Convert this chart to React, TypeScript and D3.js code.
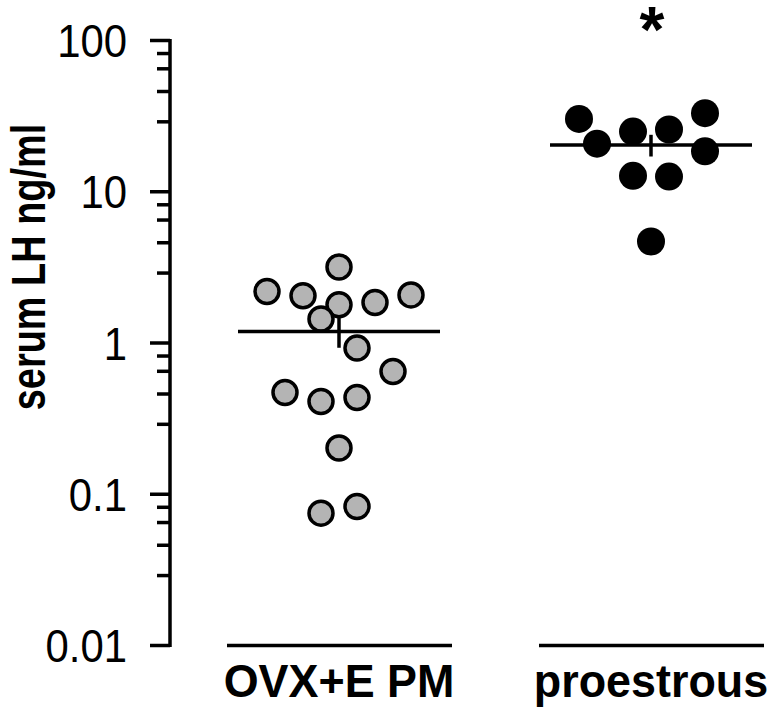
import React from "react";
import * as d3 from "d3";

const WIDTH = 773;
const HEIGHT = 709;

const GROUPS = ["OVX+E PM", "proestrous"];
const Y_TICK_VALUES = [0.01, 0.1, 1, 10, 100];
const Y_TICK_LABELS = ["0.01", "0.1", "1", "10", "100"];
const MINOR_FACTORS = [8.2, 6.5, 4.6, 2.9];
const Y_TITLE = "serum LH ng/ml";

const OVX_VALUES = [2.19, 2.05, 3.18, 1.79, 1.85, 2.08, 1.44, 0.925, 0.648, 0.471, 0.41, 0.436, 0.202, 0.075, 0.083];
const OVX_SLOTS = [-4, -2, 0, 0, 2, 4, -1, 1, 3, -3, -1, 1, 0, -1, 1];
const PRO_VALUES = [30.3, 20.8, 25.0, 25.8, 33.1, 18.5, 12.75, 12.6, 4.69];
const PRO_SLOTS = [-4, -3, -1, 1, 3, 3, -1, 1, 0];

const MEANS = [1.19, 20.4];
const SEM_HIGH = [1.47, 23.8];
const SEM_LOW = [0.93, 17.1];
const SIGNIFICANCE = ["", "*"];

export default function App() {
  const y = d3.scaleLog().domain([0.01, 100]).range([645.5, 40.5]);
  const x = d3.scalePoint<string>().domain(GROUPS).range([339, 651]);
  const slot = d3.scaleLinear().domain([-4, 4]).range([-72, 72]);
  const axisX = 170;

  const minorTicks: number[] = [];
  Y_TICK_VALUES.slice(0, -1).forEach((v) => {
    MINOR_FACTORS.forEach((f) => minorTicks.push(v * f));
  });

  const font = "Liberation Sans, Arial, Helvetica, sans-serif";
  const groupsData = [
    { values: OVX_VALUES, slots: OVX_SLOTS, fill: "#b4b4b4", stroke: "#000", r: 12, sw: 3.5 },
    { values: PRO_VALUES, slots: PRO_SLOTS, fill: "#000", stroke: "none", r: 14, sw: 0 },
  ];

  return (
    <svg
      width={WIDTH}
      height={HEIGHT}
      style={{ position: "absolute", left: 0, top: 0, background: "#fff" }}
      fontFamily={font}
    >
      <rect x={0} y={0} width={WIDTH} height={HEIGHT} fill="#fff" />
      {/* y axis */}
      <line x1={axisX} x2={axisX} y1={y(100) - 1.5} y2={y(0.01) + 1.5} stroke="#000" strokeWidth={3.5} />
      {Y_TICK_VALUES.map((v, i) => (
        <g key={"t" + i}>
          <line x1={axisX - 20} x2={axisX} y1={y(v)} y2={y(v)} stroke="#000" strokeWidth={3.5} />
          <text
            transform={`translate(127, ${y(v)}) scale(0.91, 1)`}
            dy="0.36em"
            textAnchor="end"
            fontSize={46}
            fill="#000"
          >
            {Y_TICK_LABELS[i]}
          </text>
        </g>
      ))}
      {minorTicks.map((v, i) => (
        <line key={"m" + i} x1={axisX - 13} x2={axisX} y1={y(v)} y2={y(v)} stroke="#000" strokeWidth={3.5} />
      ))}
      <text
        transform={`translate(45, 267) rotate(-90) scale(0.79, 1)`}
        textAnchor="middle"
        fontSize={48}
        fontWeight="bold"
        fill="#000"
      >
        {Y_TITLE}
      </text>

      {/* points */}
      {groupsData.map((g, gi) => (
        <g key={"g" + gi}>
          {g.values.map((v, i) => (
            <circle
              key={i}
              cx={(x(GROUPS[gi]) as number) + slot(g.slots[i])}
              cy={y(v)}
              r={g.r}
              fill={g.fill}
              stroke={g.stroke}
              strokeWidth={g.sw}
            />
          ))}
        </g>
      ))}

      {/* means and SEM */}
      {GROUPS.map((grp, i) => {
        const cx = x(grp) as number;
        return (
          <g key={"mean" + i}>
            <line x1={cx - 101} x2={cx + 101} y1={y(MEANS[i])} y2={y(MEANS[i])} stroke="#000" strokeWidth={3.5} />
            <line x1={cx} x2={cx} y1={y(SEM_HIGH[i])} y2={y(SEM_LOW[i])} stroke="#000" strokeWidth={3.5} />
          </g>
        );
      })}

      {/* category labels */}
      {GROUPS.map((grp, i) => {
        const cx = x(grp) as number;
        return (
          <g key={"cat" + i}>
            <line x1={cx - 112} x2={cx + 113} y1={645.5} y2={645.5} stroke="#000" strokeWidth={3.5} />
            <text
              transform={`translate(${cx}, 697) scale(0.955, 1)`}
              textAnchor="middle"
              fontSize={47}
              fontWeight="bold"
              fill="#000"
            >
              {grp}
            </text>
            {SIGNIFICANCE[i] && (
              <text x={cx + 1} y={52} textAnchor="middle" fontSize={64} fontWeight="bold" fill="#000">
                {SIGNIFICANCE[i]}
              </text>
            )}
          </g>
        );
      })}
    </svg>
  );
}
